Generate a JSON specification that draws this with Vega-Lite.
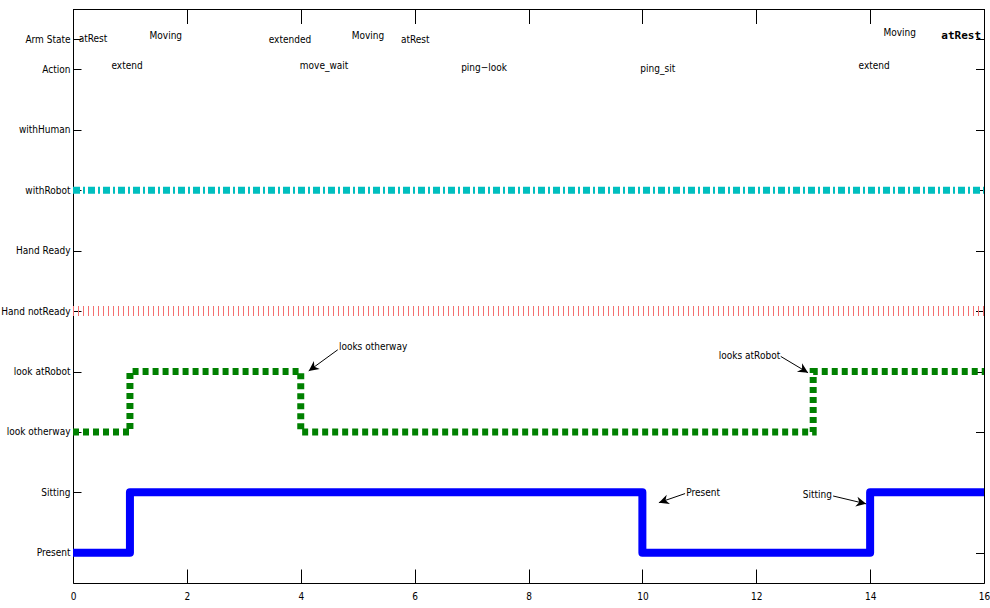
{
  "$schema": "https://vega.github.io/schema/vega-lite/v6.json",
  "autosize": "none",
  "width": 911,
  "height": 574,
  "padding": {"left": 73, "top": 9, "right": 6, "bottom": 25},
  "background": "white",
  "config": {
    "view": {"stroke": "black", "strokeWidth": 1},
    "font": "DejaVu Sans Condensed, Liberation Sans, sans-serif",
    "axis": {"grid": false, "domain": false, "tickColor": "black", "labelColor": "black", "labelFont": "DejaVu Sans Condensed, Liberation Sans, sans-serif", "labelFontSize": 10},
    "axisRight": {"labels": false},
    "axisTop": {"labels": false}
  },
  "datasets": {
    "person": [{"t": 0, "v": 0}, {"t": 1, "v": 1}, {"t": 10, "v": 0}, {"t": 14, "v": 1}, {"t": 16, "v": 1}],
    "look": [{"t": 0, "v": 2}, {"t": 1, "v": 3}, {"t": 4, "v": 2}, {"t": 13, "v": 3}, {"t": 16, "v": 3}],
    "robot": [{"t": 0, "v": 6}, {"t": 16, "v": 6}],
    "hand": [{"t": 0, "v": 4}, {"t": 16, "v": 4}],
    "events": [
      {"t": 0.35, "v": 8.5, "label": "atRest"},
      {"t": 1.63, "v": 8.56, "label": "Moving"},
      {"t": 3.81, "v": 8.48, "label": "extended"},
      {"t": 5.18, "v": 8.56, "label": "Moving"},
      {"t": 6.01, "v": 8.48, "label": "atRest"},
      {"t": 14.52, "v": 8.61, "label": "Moving"},
      {"t": 0.95, "v": 8.05, "label": "extend"},
      {"t": 4.41, "v": 8.05, "label": "move_wait"},
      {"t": 7.22, "v": 8.03, "label": "ping\u2212look"},
      {"t": 10.27, "v": 8.0, "label": "ping_sit"},
      {"t": 14.07, "v": 8.05, "label": "extend"}
    ],
    "lastState": [{"t": 15.6, "v": 8.56, "label": "atRest"}],
    "notesLeft": [
      {"t": 4.67, "v": 3.4, "label": "looks otherway"},
      {"t": 10.77, "v": 0.99, "label": "Present"}
    ],
    "notesRight": [
      {"t": 12.42, "v": 3.26, "label": "looks atRobot"},
      {"t": 13.33, "v": 0.96, "label": "Sitting"}
    ],
    "arrows": [
      {"t": 4.65, "v": 3.36, "t2": 4.14, "v2": 3.01, "angle": 144},
      {"t": 12.43, "v": 3.25, "t2": 12.91, "v2": 2.98, "angle": 31},
      {"t": 10.75, "v": 0.98, "t2": 10.29, "v2": 0.83, "angle": 161},
      {"t": 13.35, "v": 0.94, "t2": 13.93, "v2": 0.81, "angle": 13}
    ]
  },
  "encoding": {
    "x": {"field": "t", "type": "quantitative", "scale": {"domain": [0, 16], "nice": false, "zero": false},
      "axis": {"title": null, "values": [0, 2, 4, 6, 8, 10, 12, 14, 16], "tickSize": -14, "labelPadding": 22, "labelFlush": false, "format": "d"}},
    "y": {"field": "v", "type": "quantitative", "scale": {"domain": [-0.5, 9], "nice": false, "zero": false},
      "axis": {"title": null, "values": [0, 1, 2, 3, 4, 5, 6, 7, 8, 8.5], "tickSize": -8, "labelPadding": 11,
        "labelExpr": "datum.value == 8.5 ? 'Arm State' : ['Present','Sitting','look otherway','look atRobot','Hand notReady','Hand Ready','withRobot','withHuman','Action'][datum.value]"}}
  },
  "layer": [
    {"data": {"name": "hand"}, "mark": {"type": "line", "color": "#f47070", "strokeWidth": 10, "strokeDash": [1, 4], "strokeCap": "butt"}},
    {"data": {"name": "robot"}, "mark": {"type": "line", "color": "#00bfbf", "strokeWidth": 7, "strokeDash": [7, 3, 2, 3], "strokeCap": "butt"}},
    {"data": {"name": "look"}, "mark": {"type": "line", "color": "#008000", "strokeWidth": 7, "strokeDash": [6, 4], "strokeCap": "butt", "interpolate": "step-after"}},
    {"data": {"name": "person"}, "mark": {"type": "line", "color": "#0000ff", "strokeWidth": 8, "strokeJoin": "round", "strokeCap": "butt", "interpolate": "step-after"}},
    {"data": {"name": "events"}, "mark": {"type": "text", "fontSize": 10, "align": "center", "baseline": "middle", "color": "black"}, "encoding": {"text": {"field": "label"}}},
    {"data": {"name": "lastState"}, "mark": {"type": "text", "font": "DejaVu Sans Mono", "fontWeight": "bold", "fontSize": 11, "align": "center", "baseline": "middle", "color": "black"}, "encoding": {"text": {"field": "label"}}},
    {"data": {"name": "notesLeft"}, "mark": {"type": "text", "fontSize": 10, "align": "left", "baseline": "middle", "color": "black"}, "encoding": {"text": {"field": "label"}}},
    {"data": {"name": "notesRight"}, "mark": {"type": "text", "fontSize": 10, "align": "right", "baseline": "middle", "color": "black"}, "encoding": {"text": {"field": "label"}}},
    {"data": {"name": "arrows"}, "mark": {"type": "rule", "color": "black", "strokeWidth": 1}, "encoding": {"x2": {"field": "t2"}, "y2": {"field": "v2"}}},
    {"data": {"name": "arrows"}, "mark": {"type": "point", "shape": "M0,0 L-1,-0.5 L-0.7,0 L-1,0.5 Z", "filled": true, "color": "black", "size": 400, "opacity": 1},
      "encoding": {"x": {"field": "t2", "type": "quantitative"}, "y": {"field": "v2", "type": "quantitative"}, "angle": {"field": "angle", "type": "quantitative", "scale": null}}},
    {"data": {"values": [{"t": 0}]}, "mark": {"type": "point", "opacity": 0}, "encoding": {
      "x": {"field": "t", "type": "quantitative", "axis": {"orient": "top", "title": null, "values": [0, 2, 4, 6, 8, 10, 12, 14, 16], "tickSize": -14, "labels": false}},
      "y": {"datum": 0, "type": "quantitative", "axis": {"orient": "right", "title": null, "values": [0, 1, 2, 3, 4, 5, 6, 7, 8, 8.5], "tickSize": -8, "labels": false}}}}
  ],
  "resolve": {"axis": {"x": "independent", "y": "independent"}}
}
